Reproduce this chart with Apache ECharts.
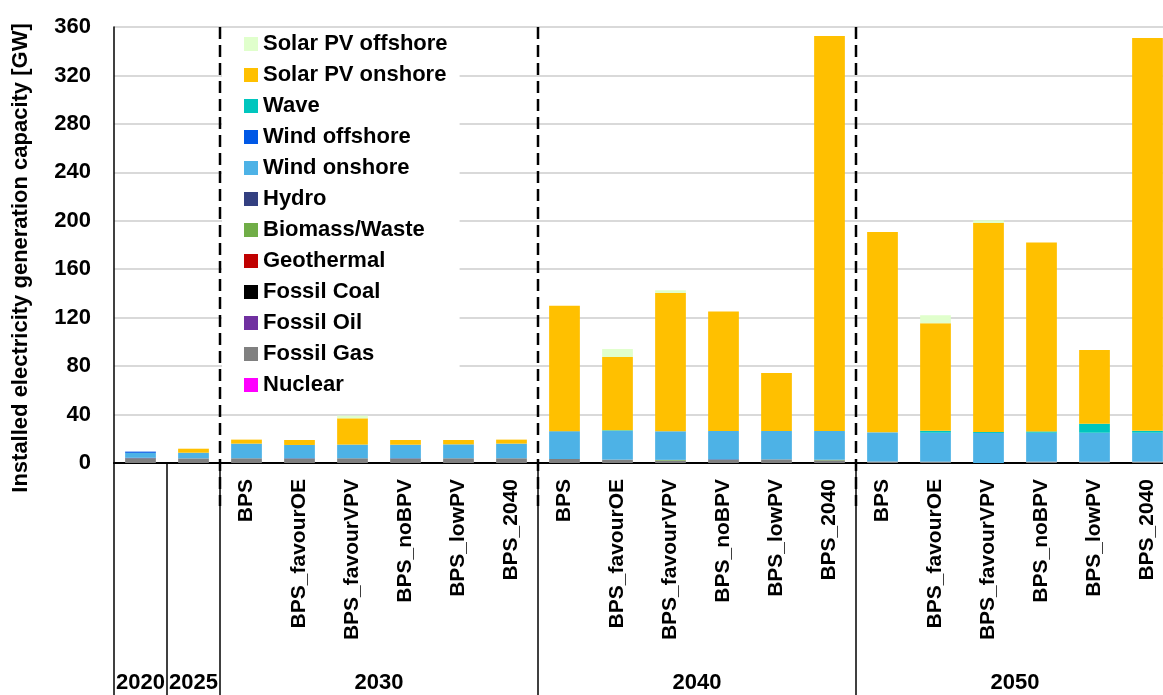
<!DOCTYPE html>
<html>
<head>
<meta charset="utf-8">
<title>Installed capacity</title>
<script src="https://cdn.jsdelivr.net/npm/echarts@6/dist/echarts.min.js"></script>
<style>
  html, body { margin: 0; padding: 0; background: #fff; }
  #main { width: 1163px; height: 695px; }
</style>
</head>
<body>
<div id="main"></div>
<script>
// categories: 2020, 2025, then 6 scenarios for 2030 / 2040 / 2050
var scen = ['BPS', 'BPS_favourOE', 'BPS_favourVPV', 'BPS_noBPV', 'BPS_lowPV', 'BPS_2040'];
var categories = ['', ''].concat(scen, scen, scen);
var years = ['2020', '2025', '2030', '2040', '2050'];
var yearSizes = [1, 1, 6, 6, 6];

// GW, one value per category
var nuclear     = [0, 0,   0, 0, 0, 0, 0, 0,   0, 0, 0, 0, 0, 0,   0, 0, 0, 0, 0, 0];
var fossilGas   = [3.8, 3.8,   3.9, 3.5, 3.9, 3.5, 3.9, 3.9,   3.3, 2.8, 2.0, 2.5, 3.0, 2.2,   1.2, 1.1, 0, 1.1, 1.1, 1.1];
var fossilOil   = [0, 0,   0, 0, 0, 0, 0, 0,   0, 0, 0, 0, 0, 0,   0, 0, 0, 0, 0, 0];
var fossilCoal  = [0, 0,   0, 0, 0, 0, 0, 0,   0, 0, 0, 0, 0, 0,   0, 0, 0, 0, 0, 0];
var geothermal  = [0, 0,   0, 0, 0, 0, 0, 0,   0, 0, 0, 0, 0, 0,   0, 0, 0, 0, 0, 0];
var biomass     = [0, 0,   0, 0, 0, 0, 0, 0,   0, 0, 0.6, 0, 0, 0.5,   0, 0, 0, 0, 0, 0];
var hydro       = [0.5, 0,   0, 0.4, 0, 0.4, 0, 0,   0, 0, 0, 0.5, 0, 0,   0, 0, 0, 0, 0, 0];
var windOn      = [4.1, 4.7,   12.1, 11.0, 11.3, 11.2, 11.5, 12.1,   23.0, 23.7, 23.6, 23.4, 23.4, 23.7,   24.1, 23.9, 24.8, 23.9, 23.9, 23.9];
var windOff     = [1.0, 0,   0, 0, 0, 0, 0, 0,   0, 0, 0, 0, 0, 0,   0, 0, 0, 0, 0, 0];
var wave        = [0, 0,   0, 0, 0, 0, 0, 0,   0, 0.5, 0, 0, 0, 0,   0, 1.6, 0.8, 1.1, 7.4, 1.6];
var solarOn     = [0, 3.3,   3.3, 4.1, 21.7, 3.9, 3.6, 3.3,   103.6, 60.5, 114.2, 98.6, 47.9, 326.2,   165.5, 88.8, 172.6, 155.9, 60.9, 324.4];
var solarOff    = [0, 0,   0, 0, 2.2, 0, 0, 0,   0, 6.6, 2.2, 0, 0, 0,   0, 6.6, 2.2, 0, 0, 0];

// bottom to top
var stack = [
  ['Nuclear', nuclear, '#ff00ff'],
  ['Fossil Gas', fossilGas, '#808080'],
  ['Fossil Oil', fossilOil, '#7030a0'],
  ['Fossil Coal', fossilCoal, '#000000'],
  ['Geothermal', geothermal, '#c00000'],
  ['Biomass/Waste', biomass, '#70ad47'],
  ['Hydro', hydro, '#333f80'],
  ['Wind onshore', windOn, '#4db2e6'],
  ['Wind offshore', windOff, '#0058e6'],
  ['Wave', wave, '#00c6be'],
  ['Solar PV onshore', solarOn, '#ffc000'],
  ['Solar PV offshore', solarOff, '#e0ffcc']
];

var arial = "'Liberation Sans', Arial, sans-serif";

var series = stack.map(function (s) {
  return {
    name: s[0], type: 'bar', stack: 'cap', data: s[1], barWidth: '58%',
    itemStyle: { color: s[2] }, emphasis: { disabled: true }
  };
});

var chart = echarts.init(document.getElementById('main'));
chart.setOption({
  animation: false,
  grid: { left: 114, top: 27, width: 1060, bottom: 232, containLabel: false, outerBoundsMode: 'none' },
  legend: {
    orient: 'vertical', left: 222, top: 30,
    data: stack.map(function (s) { return s[0]; }).reverse(),
    icon: 'rect', itemWidth: 14, itemHeight: 14, itemGap: 9,
    backgroundColor: '#fff', padding: [3, 12, 6, 22],
    textStyle: { fontSize: 22, fontWeight: 'bold', color: '#000', fontFamily: arial, lineHeight: 22 },
    selectedMode: false
  },
  xAxis: {
    type: 'category', data: categories,
    axisLine: { lineStyle: { color: '#000', width: 2 } },
    axisTick: { show: false },
    axisLabel: { rotate: 90, interval: 0, margin: 16, fontSize: 21, fontWeight: 'bold', color: '#000', fontFamily: arial }
  },
  yAxis: {
    type: 'value', min: 0, max: 360, interval: 40,
    name: 'Installed electricity generation capacity [GW]',
    nameLocation: 'middle', nameGap: 82,
    nameTextStyle: { fontSize: 22, fontWeight: 'bold', color: '#000', fontFamily: arial, padding: [0, 0, 0, -26] },
    axisLine: { show: true, lineStyle: { color: '#000', width: 1.5 } },
    axisTick: { show: false },
    splitLine: { lineStyle: { color: '#d9d9d9', width: 2 } },
    axisLabel: { fontSize: 22, fontWeight: 'bold', color: '#000', margin: 23, fontFamily: arial }
  },
  series: series
});

// group separators and year labels, placed through the axes
function px(i) { return chart.convertToPixel({ xAxisIndex: 0 }, i); }
function boundary(i) {
  var n = categories.length;
  if (i === 0) return px(0) - (px(1) - px(0)) / 2;
  if (i === n) return px(n - 1) + (px(n - 1) - px(n - 2)) / 2;
  return (px(i - 1) + px(i)) / 2;
}
var y0 = chart.convertToPixel({ yAxisIndex: 0 }, 0);
var yTop = chart.convertToPixel({ yAxisIndex: 0 }, 360);
var elems = [];
var start = 0;
years.forEach(function (yr, k) {
  var xl = boundary(start), xr = boundary(start + yearSizes[k]);
  elems.push({ type: 'line', z: 100, shape: { x1: xl, y1: y0, x2: xl, y2: 695 }, style: { stroke: '#000', lineWidth: 1.5 } });
  if (k >= 2) {
    elems.push({ type: 'line', z: 101, shape: { x1: xl, y1: yTop, x2: xl, y2: y0 + 43 }, style: { stroke: '#000', lineWidth: 2.5, lineDash: [12, 6] } });
  }
  elems.push({ type: 'text', z: 100, x: (xl + xr) / 2, y: 683,
    style: { text: yr, fill: '#000', font: 'bold 22px ' + arial, align: 'center', verticalAlign: 'middle' } });
  start += yearSizes[k];
});
chart.setOption({ graphic: elems });
</script>
</body>
</html>
